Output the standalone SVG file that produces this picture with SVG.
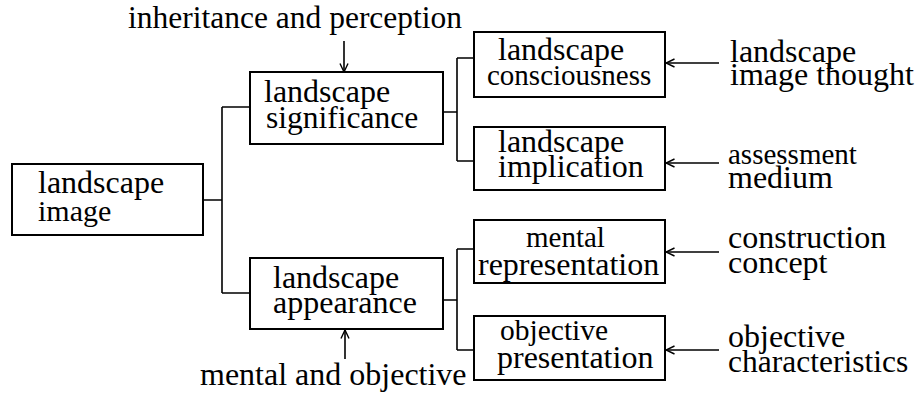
<svg xmlns="http://www.w3.org/2000/svg" width="917" height="396" viewBox="0 0 917 396">
  <style>
    .box { fill: #ffffff; stroke: #000000; stroke-width: 2; }
    .line { fill: none; stroke: #000000; stroke-width: 1.6; }
    .arrow { fill: none; stroke: #000000; stroke-width: 1.6; marker-end: url(#open); }
  </style>
  <defs>
    <marker id="open" viewBox="0 0 10 10" refX="9.5" refY="5" markerWidth="10" markerHeight="10" markerUnits="userSpaceOnUse" orient="auto">
      <path d="M1,1 L9.5,5 L1,9" fill="none" stroke="#000000" stroke-width="1.4"/>
    </marker>
  </defs>

  <rect width="917" height="396" fill="#ffffff"/>

  <!-- connectors: elbow links and open-headed arrows -->
  <g id="connectors">
    <path class="line" d="M203,200 H222 M222,107 V293 M222,107 H250 M222,293 H250"/>
    <path class="line" d="M443,112 H457 M457,58 V161 M457,58 H474 M457,161 H474"/>
    <path class="line" d="M443,300 H457 M457,249 V350 M457,249 H474 M457,350 H474"/>
    <line class="arrow" x1="344" y1="41" x2="344" y2="72"/>
    <line class="arrow" x1="345" y1="359" x2="345" y2="330"/>
    <line class="arrow" x1="719" y1="63" x2="666" y2="63"/>
    <line class="arrow" x1="719" y1="163" x2="666" y2="163"/>
    <line class="arrow" x1="719" y1="252" x2="666" y2="252"/>
    <line class="arrow" x1="719" y1="350" x2="666" y2="350"/>
  </g>

  <g font-family="Liberation Serif" font-size="32" fill="#000000">
    <!-- nodes -->
    <g id="landscape-image">
      <rect class="box" x="12" y="164" width="191" height="71"/>
      <text x="38" y="193">landscape</text>
      <text x="38" y="221" font-size="30">image</text>
    </g>

    <g id="landscape-significance">
      <rect class="box" x="250" y="72" width="193" height="72"/>
      <text x="264" y="102">landscape</text>
      <text x="266" y="128" font-size="31.5">significance</text>
    </g>

    <g id="landscape-appearance">
      <rect class="box" x="250" y="258" width="193" height="71"/>
      <text x="273" y="288">landscape</text>
      <text x="273" y="313">appearance</text>
    </g>

    <g id="landscape-consciousness">
      <rect class="box" x="474" y="32" width="191" height="65"/>
      <text x="498" y="60">landscape</text>
      <text x="487" y="85" font-size="29">consciousness</text>
    </g>

    <g id="landscape-implication">
      <rect class="box" x="474" y="127" width="191" height="63"/>
      <text x="498" y="152">landscape</text>
      <text x="498" y="177">implication</text>
    </g>

    <g id="mental-representation">
      <rect class="box" x="474" y="220" width="191" height="63"/>
      <text x="526" y="247" font-size="29">mental</text>
      <text x="478" y="275">representation</text>
    </g>

    <g id="objective-presentation">
      <rect class="box" x="474" y="316" width="191" height="64"/>
      <text x="500" y="340" font-size="29.5">objective</text>
      <text x="497" y="368">presentation</text>
    </g>

    <!-- side labels -->
    <g id="label-inheritance">
      <text x="128" y="28" font-size="31.5">inheritance and perception</text>
    </g>
    <g id="label-mental-objective">
      <text x="200" y="385">mental and objective</text>
    </g>
    <g id="label-image-thought">
      <text x="730" y="62">landscape</text>
      <text x="730" y="85">image thought</text>
    </g>
    <g id="label-assessment">
      <text x="728" y="164" font-size="29">assessment</text>
      <text x="728" y="188">medium</text>
    </g>
    <g id="label-construction">
      <text x="728" y="248">construction</text>
      <text x="728" y="273">concept</text>
    </g>
    <g id="label-characteristics">
      <text x="728" y="347">objective</text>
      <text x="728" y="372" font-size="31.5">characteristics</text>
    </g>
  </g>
</svg>
